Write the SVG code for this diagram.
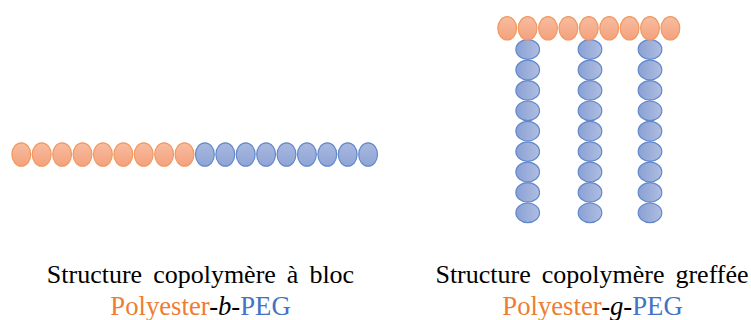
<svg xmlns="http://www.w3.org/2000/svg" width="751" height="320" viewBox="0 0 751 320">
<defs>
<linearGradient id="og" x1="0" y1="0" x2="0" y2="1"><stop offset="0" stop-color="#f7bda0"/><stop offset="1" stop-color="#f4a17c"/></linearGradient>
<linearGradient id="bh" x1="0" y1="0" x2="0" y2="1"><stop offset="0" stop-color="#a9b8de"/><stop offset="1" stop-color="#8fa5d6"/></linearGradient>
<linearGradient id="bv" x1="0" y1="0" x2="1" y2="0"><stop offset="0" stop-color="#8aa1d5"/><stop offset="1" stop-color="#afbde0"/></linearGradient>
<ellipse id="o" rx="9.4" ry="11.7" fill="url(#og)" stroke="#f2985f" stroke-width="1.2"/>
<ellipse id="h" rx="9.4" ry="11.7" fill="url(#bh)" stroke="#6288cc" stroke-width="1.2"/>
<ellipse id="v" rx="11.8" ry="9.8" fill="url(#bv)" stroke="#6288cc" stroke-width="1.2"/>
</defs>
<style>
text{font-family:"Liberation Serif","Times New Roman",serif;text-anchor:middle;fill:#000}
.l1{font-size:26px;word-spacing:4.5px}.l2{font-size:26.7px}
.po{fill:#ed7d31}.pe{fill:#4472c4}.i{font-style:italic}
</style>
<g id="chain-block">
<use href="#o" x="21.3" y="154.5"/><use href="#o" x="41.7" y="154.5"/><use href="#o" x="62.1" y="154.5"/><use href="#o" x="82.5" y="154.5"/><use href="#o" x="102.9" y="154.5"/><use href="#o" x="123.3" y="154.5"/><use href="#o" x="143.7" y="154.5"/><use href="#o" x="164.1" y="154.5"/><use href="#o" x="184.5" y="154.5"/>
<use href="#h" x="204.9" y="154.5"/><use href="#h" x="225.3" y="154.5"/><use href="#h" x="245.7" y="154.5"/><use href="#h" x="266.1" y="154.5"/><use href="#h" x="286.5" y="154.5"/><use href="#h" x="306.9" y="154.5"/><use href="#h" x="327.3" y="154.5"/><use href="#h" x="347.7" y="154.5"/><use href="#h" x="368.1" y="154.5"/>
</g>
<g id="graft-1">
<use href="#v" x="527.7" y="49.5"/><use href="#v" x="527.7" y="70"/><use href="#v" x="527.7" y="90.4"/><use href="#v" x="527.7" y="110.8"/><use href="#v" x="527.7" y="131.2"/><use href="#v" x="527.7" y="151.6"/><use href="#v" x="527.7" y="172"/><use href="#v" x="527.7" y="192.4"/><use href="#v" x="527.7" y="212.8"/>
</g>
<g id="graft-2">
<use href="#v" x="590" y="49.5"/><use href="#v" x="590" y="70"/><use href="#v" x="590" y="90.4"/><use href="#v" x="590" y="110.8"/><use href="#v" x="590" y="131.2"/><use href="#v" x="590" y="151.6"/><use href="#v" x="590" y="172"/><use href="#v" x="590" y="192.4"/><use href="#v" x="590" y="212.8"/>
</g>
<g id="graft-3">
<use href="#v" x="650" y="49.5"/><use href="#v" x="650" y="70"/><use href="#v" x="650" y="90.4"/><use href="#v" x="650" y="110.8"/><use href="#v" x="650" y="131.2"/><use href="#v" x="650" y="151.6"/><use href="#v" x="650" y="172"/><use href="#v" x="650" y="192.4"/><use href="#v" x="650" y="212.8"/>
</g>
<g id="backbone">
<use href="#o" x="507.2" y="28.3"/><use href="#o" x="527.6" y="28.3"/><use href="#o" x="548" y="28.3"/><use href="#o" x="568.4" y="28.3"/><use href="#o" x="588.8" y="28.3"/><use href="#o" x="609.2" y="28.3"/><use href="#o" x="629.6" y="28.3"/><use href="#o" x="650" y="28.3"/><use href="#o" x="670.4" y="28.3"/>
</g>
<g id="label-block">
<text class="l1" x="200.5" y="283.3">Structure copolymère à bloc</text>
<text class="l2" x="200.5" y="314.5"><tspan class="po">Polyester</tspan><tspan>-</tspan><tspan class="i">b</tspan><tspan>-</tspan><tspan class="pe">PEG</tspan></text>
</g>
<g id="label-graft">
<text class="l1" x="592" y="283.3">Structure copolymère greffée</text>
<text class="l2" x="592.5" y="314.5"><tspan class="po">Polyester</tspan><tspan>-</tspan><tspan class="i">g</tspan><tspan>-</tspan><tspan class="pe">PEG</tspan></text>
</g>
</svg>
